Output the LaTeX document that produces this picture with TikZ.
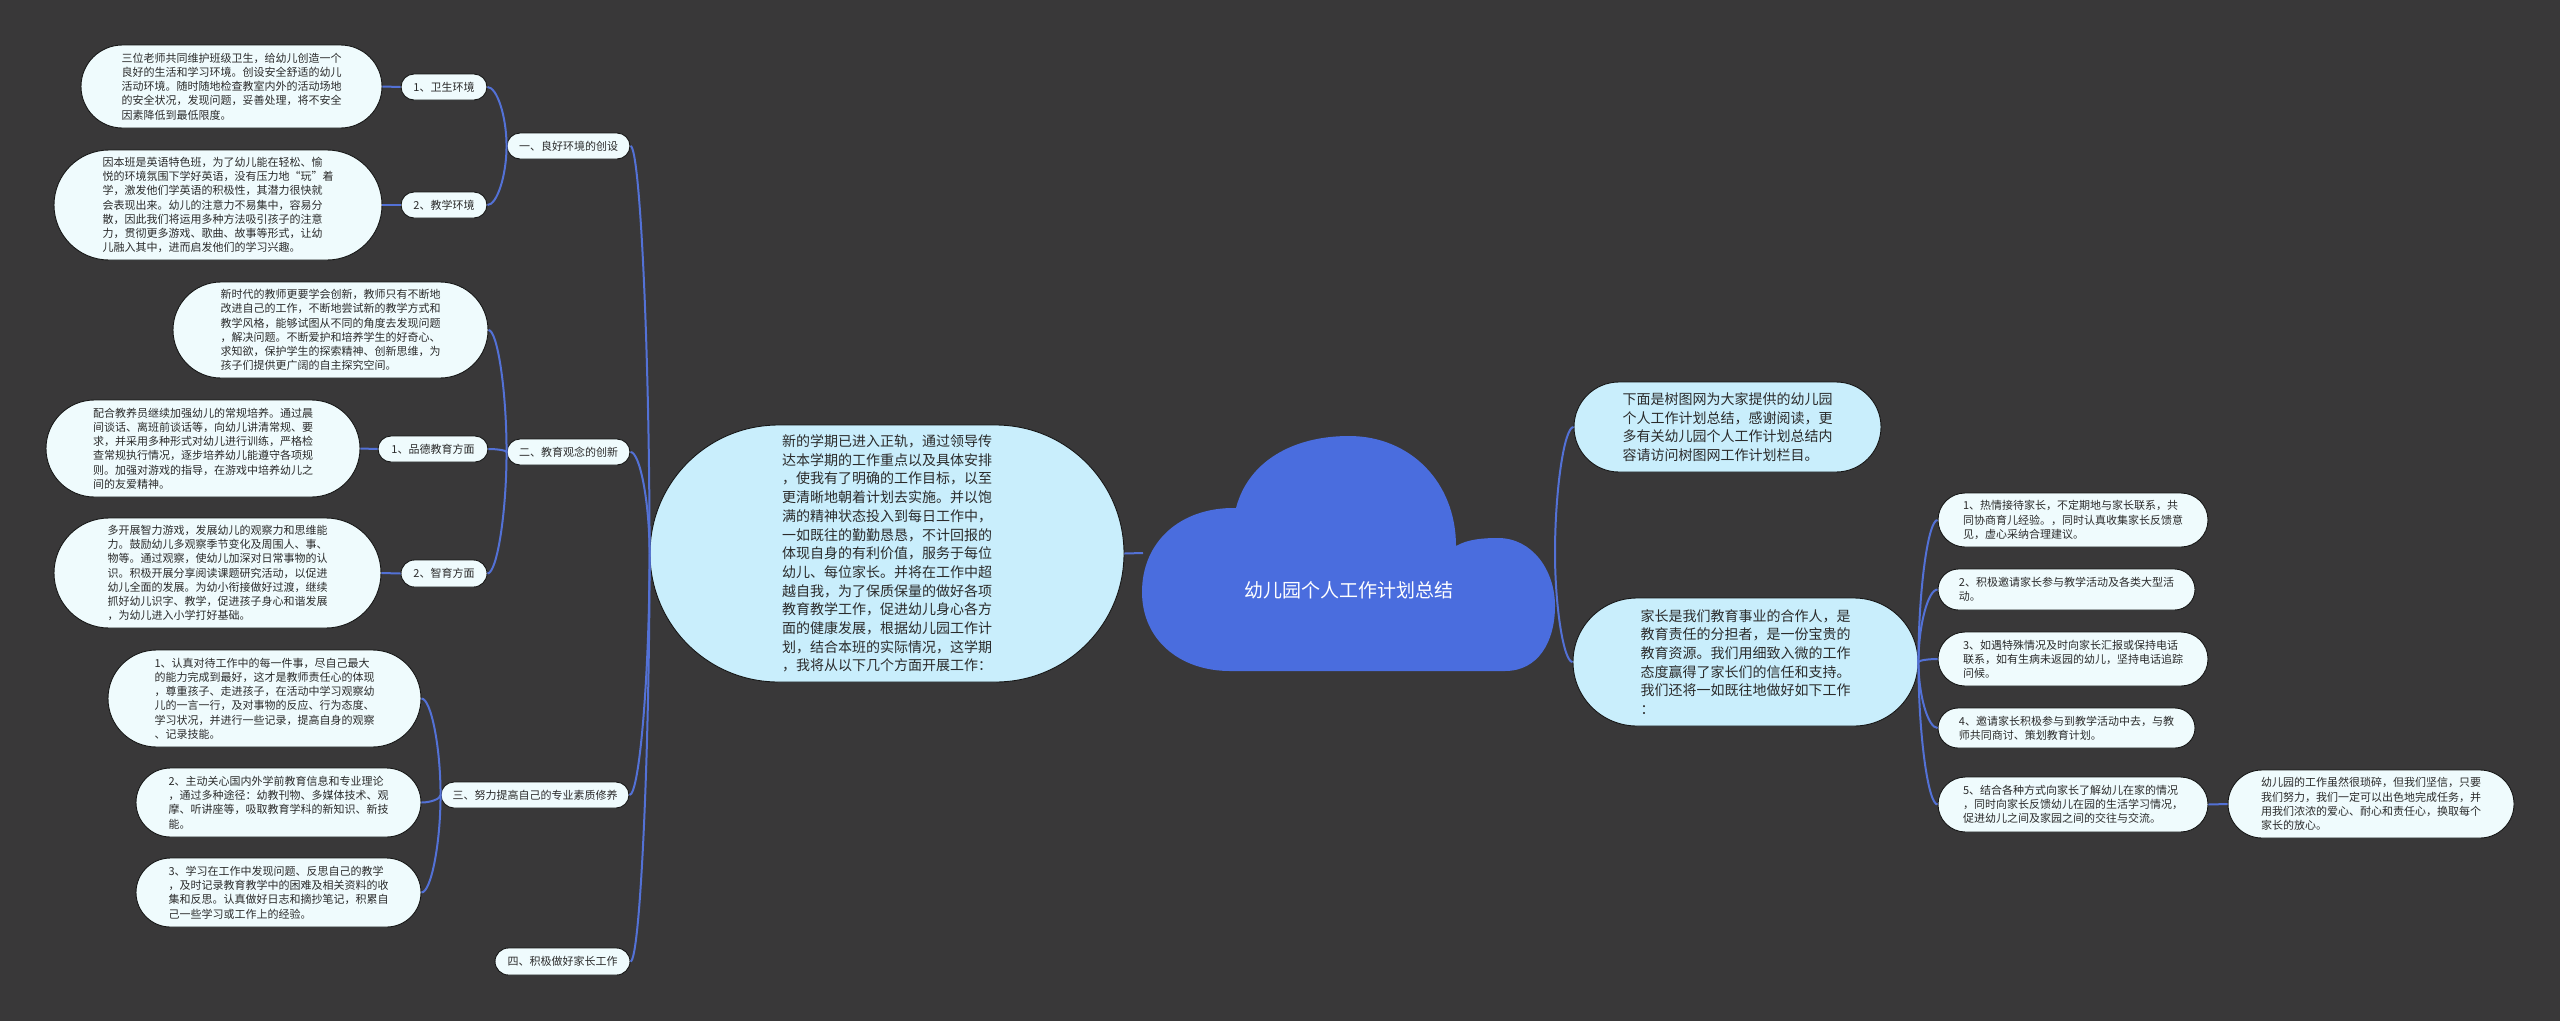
\documentclass[tikz,border=0pt]{standalone}
\usepackage{fontspec}
\setmainfont{Noto Sans CJK SC}
\usetikzlibrary{calc}
\definecolor{bgc}{RGB}{57,56,57}
\definecolor{leaffill}{HTML}{EFFBFD}
\definecolor{mainfill}{HTML}{C9EEFC}
\definecolor{cloudc}{HTML}{4A6DDE}
\definecolor{connc}{HTML}{5371D6}
\definecolor{txtc}{HTML}{2B2B2B}
\definecolor{edgec}{HTML}{161616}
\newcommand\lcn[2]{\draw[conn] (#2.east) .. controls ($(#2.east)!0.5!(#2.east -| #1.west)$) and ($(#1.west)!0.5!(#1.west |- #2.east)$) .. (#1.west);}
\newcommand\rcn[2]{\draw[conn] (#1.east) .. controls ($(#1.east)!0.5!(#1.east |- #2.west)$) and ($(#2.west)!0.5!(#2.west -| #1.east)$) .. (#2.west);}
\tikzset{
  bub/.style={draw=edgec, line width=0.9pt, fill=leaffill, text=txtc, inner sep=0pt, align=left, font=\fontsize{11}{14.2}\selectfont},
  bigbub/.style={bub, fill=mainfill, font=\fontsize{14}{18.7}\selectfont},
  conn/.style={draw=connc, line width=2pt},
}
\begin{document}
\begin{tikzpicture}[x=1pt,y=-1pt]
\fill[bgc] (0,0) rectangle (2560,1021);
\useasboundingbox (0,0) rectangle (2560,1021);

% ---------- cloud root ----------
\fill[cloudc] (1230,671) .. controls (1180,671) and (1142,640) .. (1142,592)
  .. controls (1142,542) and (1180,507) .. (1236,508)
  .. controls (1248,462) and (1292,436) .. (1349,436)
  .. controls (1410,436) and (1456,482) .. (1456,546)
  .. controls (1468,539) and (1484,538) .. (1498,538)
  .. controls (1532,538) and (1555,570) .. (1555,606)
  .. controls (1555,642) and (1538,671) .. (1505,671) -- cycle;
\node[text=white, font=\fontsize{19}{22}\selectfont, inner sep=0pt] (root) at (1349,590) {幼儿园个人工作计划总结};
\coordinate (rootL) at (1143,553);
\coordinate (rootR) at (1555,553);

% ---------- big left bubble ----------
\node[bigbub, minimum width=474pt, minimum height=257pt, rounded corners=128.5pt] (M) at (887,553.5) {新的学期已进入正轨，通过领导传\\达本学期的工作重点以及具体安排\\，使我有了明确的工作目标，以至\\更清晰地朝着计划去实施。并以饱\\满的精神状态投入到每日工作中，\\一如既往的勤勤恳恳，不计回报的\\体现自身的有利价值，服务于每位\\幼儿、每位家长。并将在工作中超\\越自我，为了保质保量的做好各项\\教育教学工作，促进幼儿身心各方\\面的健康发展，根据幼儿园工作计\\划，结合本班的实际情况，这学期\\，我将从以下几个方面开展工作：};

% ---------- level 1 (left) ----------
\node[bub, minimum width=123pt, minimum height=26pt, rounded corners=13pt] (L1) at (568.5,146) {一、良好环境的创设};
\node[bub, minimum width=123pt, minimum height=26pt, rounded corners=13pt] (L2) at (568.5,452) {二、教育观念的创新};
\node[bub, minimum width=188pt, minimum height=26pt, rounded corners=13pt] (L3) at (535,795) {三、努力提高自己的专业素质修养};
\node[bub, minimum width=135pt, minimum height=27pt, rounded corners=13.5pt] (L4) at (562.5,961.5) {四、积极做好家长工作};

% ---------- under L1 ----------
\node[bub, minimum width=86pt, minimum height=26pt, rounded corners=13pt] (a1) at (444,87) {1、卫生环境};
\node[bub, minimum width=86pt, minimum height=26pt, rounded corners=13pt] (a2) at (444,205) {2、教学环境};
\node[bub, minimum width=301pt, minimum height=83pt, rounded corners=41.5pt] (A1) at (231.5,86.5) {三位老师共同维护班级卫生，给幼儿创造一个\\良好的生活和学习环境。创设安全舒适的幼儿\\活动环境。随时随地检查教室内外的活动场地\\的安全状况，发现问题，妥善处理，将不安全\\因素降低到最低限度。};
\node[bub, minimum width=328pt, minimum height=110pt, rounded corners=55pt] (A2) at (218,205) {因本班是英语特色班，为了幼儿能在轻松、愉\\悦的环境氛围下学好英语，没有压力地“玩”着\\学，激发他们学英语的积极性，其潜力很快就\\会表现出来。幼儿的注意力不易集中，容易分\\散，因此我们将运用多种方法吸引孩子的注意\\力，贯彻更多游戏、歌曲、故事等形式，让幼\\儿融入其中，进而启发他们的学习兴趣。};

% ---------- under L2 ----------
\node[bub, minimum width=315pt, minimum height=96pt, rounded corners=48pt] (B0) at (330.5,330) {新时代的教师更要学会创新，教师只有不断地\\改进自己的工作，不断地尝试新的教学方式和\\教学风格，能够试图从不同的角度去发现问题\\，解决问题。不断爱护和培养学生的好奇心、\\求知欲，保护学生的探索精神、创新思维，为\\孩子们提供更广阔的自主探究空间。};
\node[bub, minimum width=110pt, minimum height=26pt, rounded corners=13pt] (b1) at (433,449) {1、品德教育方面};
\node[bub, minimum width=86pt, minimum height=27pt, rounded corners=13.5pt] (b2) at (444,573.5) {2、智育方面};
\node[bub, minimum width=314pt, minimum height=97pt, rounded corners=48.5pt] (B1) at (203,448.5) {配合教养员继续加强幼儿的常规培养。通过晨\\间谈话、离班前谈话等，向幼儿讲清常规、要\\求，并采用多种形式对幼儿进行训练，严格检\\查常规执行情况，逐步培养幼儿能遵守各项规\\则。加强对游戏的指导，在游戏中培养幼儿之\\间的友爱精神。};
\node[bub, minimum width=327pt, minimum height=110pt, rounded corners=55pt] (B2) at (217.5,573) {多开展智力游戏，发展幼儿的观察力和思维能\\力。鼓励幼儿多观察季节变化及周围人、事、\\物等。通过观察，使幼儿加深对日常事物的认\\识。积极开展分享阅读课题研究活动，以促进\\幼儿全面的发展。为幼小衔接做好过渡，继续\\抓好幼儿识字、教学，促进孩子身心和谐发展\\，为幼儿进入小学打好基础。};

% ---------- under L3 ----------
\node[bub, minimum width=313pt, minimum height=97pt, rounded corners=48.5pt] (C1) at (264.5,698.5) {1、认真对待工作中的每一件事，尽自己最大\\的能力完成到最好，这才是教师责任心的体现\\，尊重孩子、走进孩子，在活动中学习观察幼\\儿的一言一行，及对事物的反应、行为态度、\\学习状况，并进行一些记录，提高自身的观察\\、记录技能。};
\node[bub, minimum width=285pt, minimum height=69pt, rounded corners=34.5pt] (C2) at (278.5,802.5) {2、主动关心国内外学前教育信息和专业理论\\，通过多种途径：幼教刊物、多媒体技术、观\\摩、听讲座等，吸取教育学科的新知识、新技\\能。};
\node[bub, minimum width=285pt, minimum height=69pt, rounded corners=34.5pt] (C3) at (278.5,892.5) {3、学习在工作中发现问题、反思自己的教学\\，及时记录教育教学中的困难及相关资料的收\\集和反思。认真做好日志和摘抄笔记，积累自\\己一些学习或工作上的经验。};

% ---------- right side ----------
\node[bigbub, minimum width=307pt, minimum height=90pt, rounded corners=45pt] (R1) at (1727.5,427) {下面是树图网为大家提供的幼儿园\\个人工作计划总结，感谢阅读，更\\多有关幼儿园个人工作计划总结内\\容请访问树图网工作计划栏目。};
\node[bigbub, minimum width=345pt, minimum height=128pt, rounded corners=64pt] (R2) at (1745.5,662) {家长是我们教育事业的合作人，是\\教育责任的分担者，是一份宝贵的\\教育资源。我们用细致入微的工作\\态度赢得了家长们的信任和支持。\\我们还将一如既往地做好如下工作\\：};

\node[bub, minimum width=270pt, minimum height=54pt, rounded corners=27pt] (P1) at (2073,520) {1、热情接待家长，不定期地与家长联系，共\\同协商育儿经验。，同时认真收集家长反馈意\\见，虚心采纳合理建议。};
\node[bub, minimum width=257pt, minimum height=41pt, rounded corners=20.5pt] (P2) at (2066.5,589.5) {2、积极邀请家长参与教学活动及各类大型活\\动。};
\node[bub, minimum width=270pt, minimum height=54pt, rounded corners=27pt] (P3) at (2073,659) {3、如遇特殊情况及时向家长汇报或保持电话\\联系，如有生病未返园的幼儿，坚持电话追踪\\问候。};
\node[bub, minimum width=257pt, minimum height=40pt, rounded corners=20pt] (P4) at (2066.5,728) {4、邀请家长积极参与到教学活动中去，与教\\师共同商讨、策划教育计划。};
\node[bub, minimum width=270pt, minimum height=55pt, rounded corners=27.5pt] (P5) at (2073,804.5) {5、结合各种方式向家长了解幼儿在家的情况\\，同时向家长反馈幼儿在园的生活学习情况，\\促进幼儿之间及家园之间的交往与交流。};
\node[bub, minimum width=286pt, minimum height=68pt, rounded corners=34pt] (Q) at (2371,804) {幼儿园的工作虽然很琐碎，但我们坚信，只要\\我们努力，我们一定可以出色地完成任务，并\\用我们浓浓的爱心、耐心和责任心，换取每个\\家长的放心。};

% ---------- connectors ----------
\draw[conn] (M.east) -- (rootL);
\draw[conn] (rootR) .. controls ($(rootR)!0.5!(rootR |- R1.west)$) and ($(R1.west)!0.5!(R1.west -| rootR)$) .. (R1.west);
\draw[conn] (rootR) .. controls ($(rootR)!0.5!(rootR |- R2.west)$) and ($(R2.west)!0.5!(R2.west -| rootR)$) .. (R2.west);
\lcn{M}{L1}
\lcn{M}{L2}
\lcn{M}{L3}
\lcn{M}{L4}
\lcn{L1}{a1}
\lcn{L1}{a2}
\draw[conn] (a1.west) -- (A1.east);
\draw[conn] (a2.west) -- (A2.east);
\lcn{L2}{B0}
\lcn{L2}{b1}
\lcn{L2}{b2}
\draw[conn] (b1.west) -- (B1.east);
\draw[conn] (b2.west) -- (B2.east);
\lcn{L3}{C1}
\lcn{L3}{C2}
\lcn{L3}{C3}
\rcn{R2}{P1}
\rcn{R2}{P2}
\rcn{R2}{P3}
\rcn{R2}{P4}
\rcn{R2}{P5}
\draw[conn] (P5.east) -- (Q.west);
\end{tikzpicture}
\end{document}
